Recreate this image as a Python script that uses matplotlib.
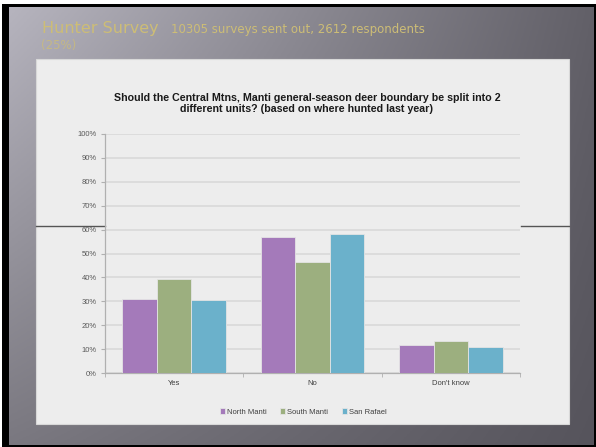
import numpy as np
import matplotlib
matplotlib.use("Agg")
import matplotlib.pyplot as plt
from matplotlib.patches import Rectangle

categorias = ["Yes", "No", "Don't know"]
series = ["North Manti", "South Manti", "San Rafael"]
north_manti = [30.8, 57.0, 11.7]
south_manti = [39.5, 46.4, 13.4]
san_rafael = [30.4, 58.2, 10.9]
valores = [north_manti, south_manti, san_rafael]
colores = ["#a47aba", "#9caf7f", "#6bb1cb"]

W, H = 596, 447
plt.rcParams['font.family'] = ['Liberation Sans', 'DejaVu Sans']

fig = plt.figure(figsize=(W / 100, H / 100), dpi=100, facecolor="white")


def fx(x):
    return x / W


def fy(y):
    return 1 - y / H


# marco negro y fondo degradado de la diapositiva
fig.patches.append(Rectangle((fx(2), 0), 1 - fx(2), fy(4), transform=fig.transFigure,
                             facecolor="black", edgecolor="none", zorder=-2))
ax_bg = fig.add_axes([fx(9), fy(445), fx(594) - fx(9), fy(7) - fy(445)], zorder=-1)
ax_bg.set_axis_off()
gx = np.linspace(0, 1, 200)
gy = np.linspace(0, 1, 150)
X, Y = np.meshgrid(gx, gy)
tl = np.array([182, 180, 190]) / 255
tr = np.array([98, 96, 104]) / 255
bl = np.array([122, 120, 128]) / 255
br = np.array([86, 84, 92]) / 255
img = ((1 - X)[..., None] * (1 - Y)[..., None] * tl + X[..., None] * (1 - Y)[..., None] * tr
       + (1 - X)[..., None] * Y[..., None] * bl + X[..., None] * Y[..., None] * br)
ax_bg.imshow(img, aspect="auto", extent=[0, 1, 1, 0])

# encabezado
oro = "#cdbd76"
fig.text(fx(42), fy(33), "Hunter Survey", color=oro, fontsize=11.5, family="DejaVu Sans",
         ha="left", va="baseline")
fig.text(fx(171), fy(33), "10305 surveys sent out, 2612 respondents", color=oro, fontsize=8.5,
         family="DejaVu Sans", ha="left", va="baseline")
fig.text(fx(41), fy(49), "(25%)", color=oro, fontsize=8.5, family="DejaVu Sans",
         ha="left", va="baseline", alpha=0.75)

# panel del grafico
fig.patches.append(Rectangle((fx(36), fy(424)), fx(569) - fx(36), fy(59) - fy(424),
                             transform=fig.transFigure, facecolor="#ededed",
                             edgecolor="#d8d8d8", linewidth=0.8, zorder=1))

ax = fig.add_axes([fx(105), fy(373), fx(520) - fx(105), fy(134) - fy(373)], zorder=3)
ax.patch.set_facecolor("#ededed")

# linea oscura que cruza el panel fuera del area del grafico
ancho_px = 520 - 105
y_linea = (373 - 226) / (373 - 134)
ax.plot([(36 - 105) / ancho_px, 0], [y_linea, y_linea], transform=ax.transAxes,
        color="#555555", linewidth=1, clip_on=False)
ax.plot([1 + 1 / ancho_px, (569 - 105) / ancho_px], [y_linea, y_linea], transform=ax.transAxes,
        color="#555555", linewidth=1, clip_on=False)

x = np.arange(len(categorias))
ancho = 0.25
for i, (nombre, vals) in enumerate(zip(series, valores)):
    ax.bar(x + (i - 1) * ancho, vals, ancho, color=colores[i], edgecolor="#e4e4e4",
           linewidth=0.6, label=nombre, zorder=3)

ax.set_xlim(-0.5, len(categorias) - 0.5)
ax.set_ylim(0, 100)
ax.set_yticks(range(0, 101, 10))
ax.set_yticklabels([f"{v}%" for v in range(0, 101, 10)], fontsize=5.5, color="#595959")
ax.set_xticks(x)
ax.set_xticklabels(categorias, fontsize=5.5, color="#404040")
ax.set_xticks(np.arange(-0.5, len(categorias), 1), minor=True)
ax.tick_params(axis="x", which="major", length=0, pad=5)
ax.tick_params(axis="x", which="minor", length=3, color="#b0b0b0", direction="out")
ax.tick_params(axis="y", length=3, color="#b0b0b0", pad=3)
ax.grid(axis="y", color="#d9d9d9", linewidth=1.2, zorder=0)
ax.set_axisbelow(True)
for lado in ["top", "right"]:
    ax.spines[lado].set_visible(False)
for lado in ["left", "bottom"]:
    ax.spines[lado].set_color("#b0b0b0")
    ax.spines[lado].set_linewidth(0.9)

fig.text(fx(307), fy(103.5),
         "Should the Central Mtns, Manti general-season deer boundary be split into 2\n"
         "different units? (based on where hunted last year)",
         ha="center", va="center", fontsize=7.7, fontweight="bold", color="#1a1a1a",
         linespacing=1.15, zorder=4)

fig.legend(loc="center", bbox_to_anchor=(fx(303), fy(412)), ncol=3, frameon=False,
           fontsize=5.5, handlelength=0.7, handleheight=0.7, handletextpad=0.2,
           columnspacing=1.8, labelcolor="#404040")

fig.savefig("out.png", dpi=100)
